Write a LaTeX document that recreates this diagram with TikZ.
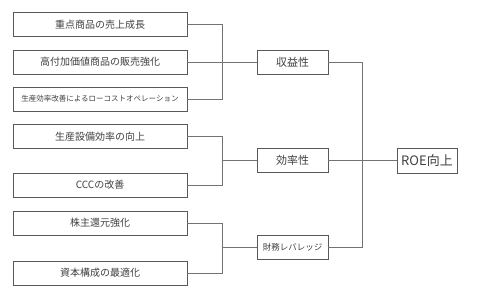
\documentclass[tikz,border=0pt]{standalone}
\usepackage{fontspec}
\setmainfont{Noto Sans CJK JP}
\usepackage{xcolor}
\usepackage{tikz}

\begin{document}
\begin{tikzpicture}[x=1pt, y=-1pt, every node/.style={draw=black!65, rectangle, inner sep=0pt, text=black!75, minimum height=24pt}]
  \useasboundingbox (0,0) rectangle (479,297);

  % Left: measures
  \node[minimum width=174pt, font=\fontsize{10}{12}\selectfont] (k1) at (100,24.5) {重点商品の売上成長};
  \node[minimum width=174pt, font=\fontsize{10}{12}\selectfont] (k2) at (100,62) {高付加価値商品の販売強化};
  \node[minimum width=174pt, font=\fontsize{7.5}{9}\selectfont] (k3) at (100,99) {生産効率改善によるローコストオペレーション};
  \node[minimum width=174pt, font=\fontsize{10}{12}\selectfont] (k4) at (100,136.5) {生産設備効率の向上};
  \node[minimum width=174pt, font=\fontsize{10}{12}\selectfont] (k5) at (100,185) {CCCの改善};
  \node[minimum width=174pt, font=\fontsize{10}{12}\selectfont] (k6) at (100,223) {株主還元強化};
  \node[minimum width=174pt, font=\fontsize{10}{12}\selectfont] (k7) at (100,273) {資本構成の最適化};

  % Middle: drivers
  \node[minimum width=71pt, font=\fontsize{11}{13}\selectfont] (m1) at (292.5,62) {収益性};
  \node[minimum width=71pt, font=\fontsize{11}{13}\selectfont] (m2) at (292.5,160.5) {効率性};
  \node[minimum width=71pt, font=\fontsize{8.5}{10}\selectfont] (m3) at (292.5,247) {財務レバレッジ};

  % Right: goal
  \node[minimum width=60pt, minimum height=25pt, font=\fontsize{13}{15}\selectfont] (roe) at (427,160.5) {ROE向上};

  % Junctions
  \coordinate (b1) at (222,62);
  \coordinate (b2) at (222,160.5);
  \coordinate (b3) at (222,247);
  \coordinate (b4) at (362,160.5);

  % Connections
  \draw[black!55] (k1.east) -| (b1);
  \draw[black!55] (k3.east) -| (b1);
  \draw[black!55] (k2.east) -- (m1.west);
  \draw[black!55] (k4.east) -| (b2);
  \draw[black!55] (k5.east) -| (b2);
  \draw[black!55] (b2) -- (m2.west);
  \draw[black!55] (k6.east) -| (b3);
  \draw[black!55] (k7.east) -| (b3);
  \draw[black!55] (b3) -- (m3.west);
  \draw[black!55] (m1.east) -| (b4);
  \draw[black!55] (m3.east) -| (b4);
  \draw[black!55] (m2.east) -- (roe.west);
\end{tikzpicture}
\end{document}
